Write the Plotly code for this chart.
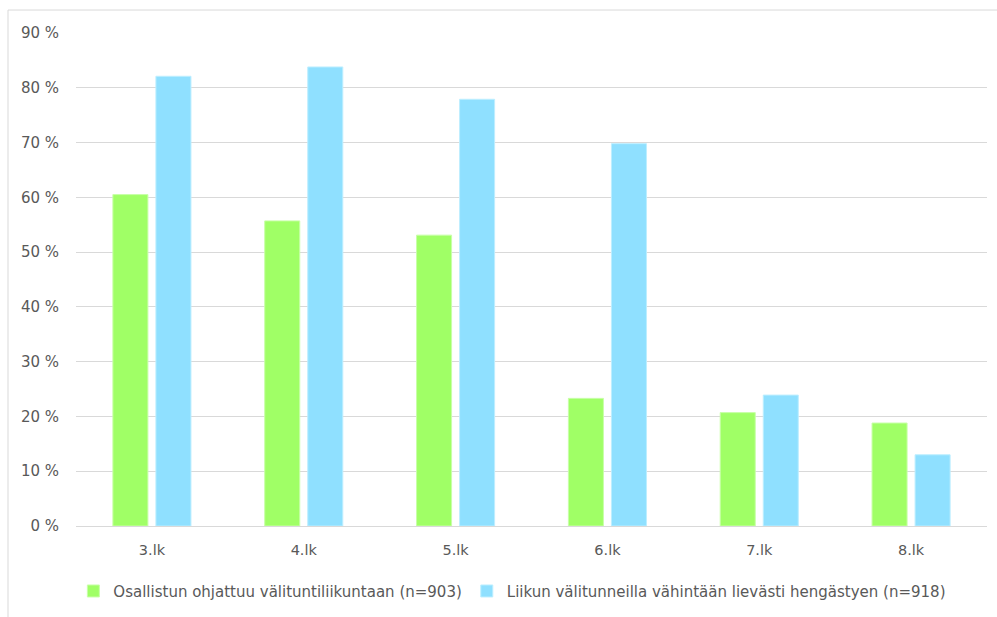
import plotly.graph_objects as go

# Grade levels and the share of pupils (%) for each statement
grades = ["3.lk", "4.lk", "5.lk", "6.lk", "7.lk", "8.lk"]
guided_recess = [60.5, 55.7, 53.1, 23.3, 20.7, 18.8]
active_recess = [82.1, 83.8, 77.9, 69.8, 23.9, 13.0]
series_names = [
    "Osallistun ohjattuu välituntiliikuntaan (n=903)",
    "Liikun välitunneilla vähintään lievästi hengästyen (n=918)",
]
y_ticks = [0, 10, 20, 30, 40, 50, 60, 70, 80, 90]
y_tick_text = [f"{v} %" for v in y_ticks]

W, H = 997, 617
L, R, T, B = 76, 10, 33, 90
TEXT = "#595959"
GRID = "#d9d9d9"
FONT = "DejaVu Sans"

fig = go.Figure()
fig.add_trace(go.Bar(
    x=grades, y=guided_recess, name=series_names[0],
    marker=dict(color="#A0FF66", line=dict(color="#C8FFA8", width=1)),
))
fig.add_trace(go.Bar(
    x=grades, y=active_recess, name=series_names[1],
    marker=dict(color="#8FE0FF", line=dict(color="#BDEEFF", width=1)),
))

pw = W - L - R
ph = H - T - B
# light frame along the left and top edges of the chart
bx = (8 - L) / pw
by = 1 + (T - 10) / ph
fig.add_shape(
    type="path", xref="paper", yref="paper",
    path=f"M {bx} -1 L {bx} {by} L 1.2 {by}",
    line=dict(color="#d9d9d9", width=1),
)

fig.update_layout(
    width=W, height=H,
    margin=dict(l=L, r=R, t=T, b=B),
    paper_bgcolor="white", plot_bgcolor="white",
    barmode="group", bargap=0.433, bargroupgap=0.186,
    font=dict(family=FONT, size=15, color=TEXT),
    showlegend=True,
    legend=dict(
        orientation="h", x=0.479, xanchor="center", y=-0.13, yanchor="middle",
        font=dict(family=FONT, size=15, color=TEXT), itemwidth=30,
        traceorder="normal",
    ),
    xaxis=dict(
        showgrid=False, showline=False, ticks="", ticklabelstandoff=13,
        tickfont=dict(family=FONT, size=14.5, color=TEXT),
    ),
    yaxis=dict(
        range=[0, 90], tickmode="array", tickvals=y_ticks, ticktext=y_tick_text,
        showgrid=True, gridcolor=GRID, gridwidth=1,
        zeroline=True, zerolinecolor=GRID, zerolinewidth=1,
        showline=False, ticks="", ticklabelstandoff=16,
        tickfont=dict(family=FONT, size=15, color=TEXT),
    ),
)

fig.write_html("out.html")
